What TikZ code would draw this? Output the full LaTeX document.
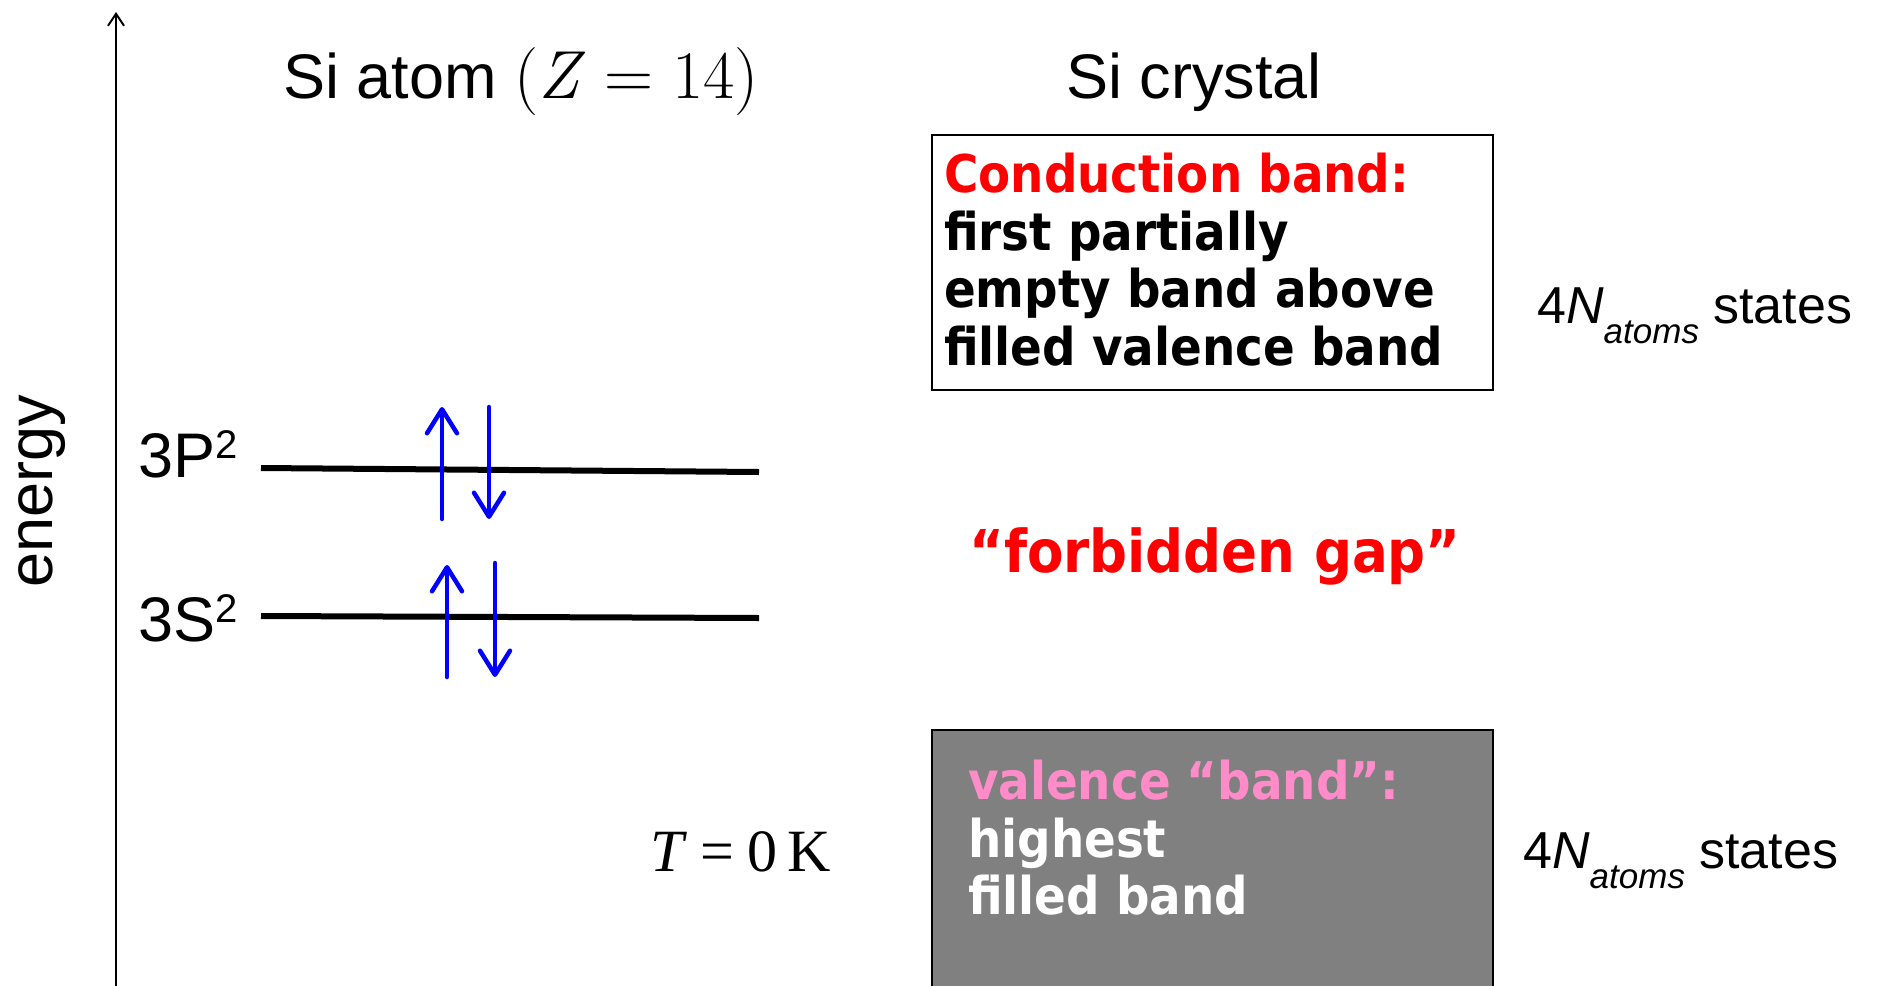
\documentclass[tikz,border=0pt]{standalone}
\usepackage{fontspec}
\setmainfont{Liberation Sans}
\newfontfamily\serifTimes{Liberation Serif}
\newfontfamily\lmr{Latin Modern Roman}
\IfFontExistsTF{DejaVu Sans Condensed}{\newfontfamily\boldcond{DejaVu Sans Condensed}}{\newfontfamily\boldcond{DejaVu Sans}[FakeStretch=0.9]}
\usetikzlibrary{arrows.meta}
\definecolor{vpink}{RGB}{255,140,200}
\definecolor{bandgray}{RGB}{128,128,128}
\newcommand\supsq{\raisebox{19pt}{\fontsize{40}{40}\selectfont 2}}
\begin{document}
\begin{tikzpicture}[x=1pt,y=-1pt,
  lbl/.style={inner sep=0pt, font=\fontsize{63}{63}\selectfont},
  level/.style={line width=6pt},
  spin/.style={blue, line width=4.5pt, line cap=round, -{Straight Barb[length=24pt,width=30pt,line cap=round,line join=round]}},
  bandbox/.style={draw=black, line width=2pt},
  bandtxt/.style={inner sep=0pt, anchor=north west, align=left, font=\boldcond\bfseries\fontsize{52}{57.5}\selectfont},
  states/.style={inner sep=0pt, anchor=base west, font=\fontsize{52}{52}\selectfont}]
\useasboundingbox (0,0) rectangle (1878,985);

% energy axis
\coordinate (axb) at (116,986);
\coordinate (axt) at (116,12);
\draw[line width=2pt,-{Straight Barb[length=12pt,width=16pt]}] (axb) -- (axt);
\node[lbl, rotate=90, anchor=base] (energy) at (52,491) {energy};

% titles
\node[lbl, anchor=base] (atom) at (521,98) {Si atom {\lmr\fontsize{68}{68}\selectfont(\textit{Z}\hspace{0.28em}=\hspace{0.28em}14)}};
\node[lbl, anchor=base] (crystal) at (1194,98) {Si crystal};

% atomic levels
\node[lbl, anchor=base west] (p3) at (138,477) {3P\supsq};
\node[lbl, anchor=base west] (s3) at (138,641) {3S\supsq};
\coordinate (pL) at (261,468); \coordinate (pR) at (759,472);
\coordinate (sL) at (261,616); \coordinate (sR) at (759,618);
\draw[level] (pL) -- (pR);
\draw[level] (sL) -- (sR);

% spins
\coordinate (pu0) at (442,519); \coordinate (pu1) at (442,407);
\coordinate (pd0) at (489,407); \coordinate (pd1) at (489,519);
\coordinate (su0) at (447,677); \coordinate (su1) at (447,565);
\coordinate (sd0) at (495,563); \coordinate (sd1) at (495,677);
\draw[spin] (pu0) -- (pu1);
\draw[spin] (pd0) -- (pd1);
\draw[spin] (su0) -- (su1);
\draw[spin] (sd0) -- (sd1);

% conduction band
\node[bandbox, anchor=north west, inner sep=0pt, minimum width=561pt, minimum height=255pt] (cb) at (931,134) {};
\node[bandtxt] (cbtxt) at (944,153) {\textcolor{red}{Conduction band:}\\first partially\\empty band above\\filled valence band};
\node[states] (ntop) at (1537,323) {4\textit{N}\raisebox{-20pt}{\fontsize{35}{35}\selectfont\textit{atoms}} states};

% gap
\node[inner sep=0pt, anchor=base, text=red, font=\boldcond\bfseries\fontsize{59}{59}\selectfont] (gap) at (1215,572) {“forbidden gap”};

% valence band
\node[bandbox, fill=bandgray, anchor=north west, inner sep=0pt, minimum width=561pt, minimum height=262pt] (vb) at (931,729) {};
\node[bandtxt, text=white] (vbtxt) at (968,760) {\textcolor{vpink}{valence “band”:}\\highest\\filled band};
\node[states] (nbot) at (1523,868) {4\textit{N}\raisebox{-20pt}{\fontsize{35}{35}\selectfont\textit{atoms}} states};

% temperature
\node[inner sep=0pt, anchor=base west, font=\serifTimes\fontsize{60}{60}\selectfont] (temp) at (650,871) {\textit{T}\hspace{0.22em}=\hspace{0.22em}0\hspace{0.17em}K};
\end{tikzpicture}
\end{document}
